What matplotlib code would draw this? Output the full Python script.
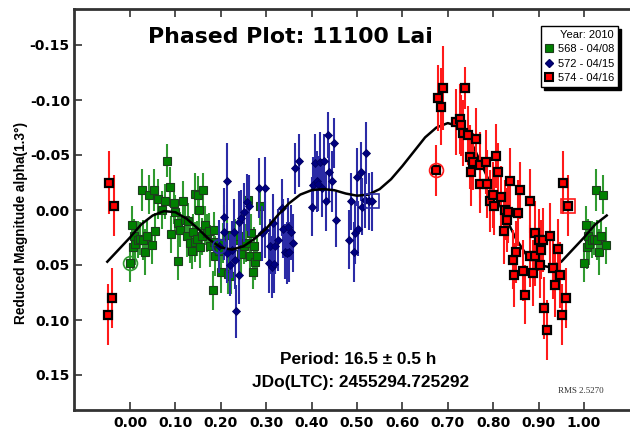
import matplotlib
matplotlib.use("Agg")
import matplotlib.pyplot as plt
from matplotlib.lines import Line2D
import numpy as np

plt.rcParams['font.family'] = ['Liberation Sans', 'DejaVu Sans']

# ---- session 568 (2010-04-08) ----
green_phase = [0.000, 0.005, 0.007, 0.009, 0.012, 0.018, 0.021, 0.026, 0.029, 0.034,
               0.038, 0.042, 0.048, 0.052, 0.055, 0.062, 0.070, 0.078, 0.081, 0.089,
               0.090, 0.096, 0.099, 0.105, 0.106, 0.110, 0.116, 0.121, 0.125, 0.128,
               0.133, 0.136, 0.138, 0.143, 0.144, 0.147, 0.150, 0.152, 0.155, 0.158,
               0.161, 0.165, 0.169, 0.174, 0.176, 0.183, 0.184, 0.186, 0.187, 0.195,
               0.200, 0.205, 0.213, 0.216, 0.222, 0.231, 0.239, 0.245, 0.250, 0.255,
               0.261, 0.264, 0.266, 0.272, 0.273, 0.275, 0.279, 0.286]
green_mag = [0.048, 0.014, 0.034, 0.024, 0.031, 0.027, 0.026, -0.018, 0.027, 0.038,
             0.024, -0.014, 0.032, -0.018, 0.019, -0.010, 0.000, -0.008, -0.045, -0.021,
             0.022, -0.006, 0.002, 0.046, 0.012, 0.018, -0.008, 0.009, 0.024, 0.010,
             0.030, 0.037, 0.020, -0.015, 0.029, 0.026, -0.014, 0.000, 0.034, 0.024,
             -0.018, 0.014, 0.021, 0.019, 0.033, 0.073, 0.029, 0.018, 0.042, 0.037,
             0.056, 0.030, 0.023, 0.058, 0.060, 0.027, 0.024, 0.040, 0.033, 0.030,
             -0.009, 0.042, 0.021, 0.056, 0.033, 0.047, 0.042, -0.004]
green_err = [0.017, 0.018, 0.020, 0.016, 0.019, 0.017, 0.015, 0.019, 0.018, 0.021,
             0.016, 0.018, 0.017, 0.019, 0.016, 0.018, 0.017, 0.016, 0.015, 0.018,
             0.017, 0.019, 0.016, 0.018, 0.017, 0.016, 0.018, 0.017, 0.019, 0.016,
             0.018, 0.017, 0.016, 0.019, 0.018, 0.016, 0.017, 0.018, 0.019, 0.017,
             0.016, 0.018, 0.017, 0.016, 0.019, 0.018, 0.017, 0.016, 0.018, 0.017,
             0.019, 0.018, 0.017, 0.018, 0.016, 0.019, 0.017, 0.018, 0.016, 0.017,
             0.018, 0.019, 0.017, 0.016, 0.018, 0.017, 0.019, 0.018]

# ---- session 572 (2010-04-15) ----
blue_phase = [0.195, 0.206, 0.208, 0.213, 0.214, 0.220, 0.224, 0.228, 0.231, 0.233,
              0.239, 0.241, 0.244, 0.252, 0.257, 0.263, 0.285, 0.290, 0.297, 0.298,
              0.306, 0.308, 0.312, 0.318, 0.316, 0.320, 0.327, 0.334, 0.338, 0.341,
              0.345, 0.347, 0.350, 0.355, 0.360, 0.364, 0.373, 0.400, 0.404, 0.407,
              0.411, 0.414, 0.419, 0.422, 0.428, 0.432, 0.437, 0.438, 0.445, 0.450,
              0.454, 0.482, 0.487, 0.493, 0.496, 0.499, 0.503, 0.509, 0.510, 0.517,
              0.519, 0.527, 0.532]
blue_mag = [0.033, 0.006, 0.020, 0.039, -0.026, 0.050, 0.036, 0.020, 0.045, 0.092,
            0.059, 0.011, 0.007, 0.002, -0.007, -0.004, -0.020, 0.021, -0.020, 0.018,
            0.048, 0.033, 0.052, 0.049, 0.012, 0.033, 0.027, -0.002, 0.017, 0.038,
            0.039, 0.015, 0.038, 0.020, 0.030, -0.038, -0.045, -0.003, -0.023, -0.043,
            -0.026, -0.024, -0.044, -0.020, -0.045, -0.008, -0.068, -0.035, -0.026, -0.061,
            0.009, 0.027, -0.008, 0.038, 0.021, -0.030, 0.017, -0.035, -0.003, -0.009,
            -0.052, -0.008, -0.008]
blue_err = [0.024, 0.026, 0.025, 0.027, 0.035, 0.028, 0.026, 0.030, 0.027, 0.024,
            0.026, 0.028, 0.025, 0.027, 0.026, 0.028, 0.027, 0.025, 0.028, 0.026,
            0.027, 0.025, 0.028, 0.026, 0.027, 0.025, 0.028, 0.026, 0.027, 0.025,
            0.028, 0.026, 0.027, 0.025, 0.026, 0.023, 0.024, 0.027, 0.025, 0.026,
            0.028, 0.025, 0.027, 0.026, 0.024, 0.027, 0.021, 0.026, 0.028, 0.023,
            0.025, 0.027, 0.026, 0.027, 0.028, 0.026, 0.025, 0.027, 0.026, 0.025,
            0.028, 0.026, 0.027]

# ---- session 574 (2010-04-16) ----
red_phase = [0.675, 0.679, 0.684, 0.689, 0.719, 0.727, 0.730, 0.733, 0.738, 0.745,
             0.749, 0.752, 0.756, 0.763, 0.771, 0.772, 0.784, 0.787, 0.792, 0.800,
             0.801, 0.806, 0.811, 0.818, 0.824, 0.826, 0.830, 0.833, 0.838, 0.844,
             0.845, 0.850, 0.855, 0.860, 0.866, 0.870, 0.881, 0.882, 0.888, 0.892,
             0.893, 0.900, 0.903, 0.905, 0.910, 0.911, 0.918, 0.925, 0.932, 0.936,
             0.943, 0.947, 0.952, 0.954, 0.961, 0.965]
red_mag = [-0.036, -0.102, -0.094, -0.111, -0.080, -0.083, -0.077, -0.070, -0.111, -0.068,
           -0.048, -0.035, -0.044, -0.065, -0.041, -0.024, -0.044, -0.024, -0.008, -0.014,
           -0.004, -0.049, -0.035, -0.012, 0.019, 0.000, 0.009, 0.002, -0.026, 0.045,
           0.059, 0.038, 0.003, -0.018, 0.055, 0.077, -0.008, 0.042, 0.057, 0.042,
           0.021, 0.027, 0.050, 0.036, 0.027, 0.089, 0.109, 0.024, 0.053, 0.068,
           0.035, 0.059, 0.095, -0.025, 0.080, -0.004]
red_err = [0.023, 0.030, 0.035, 0.038, 0.030, 0.032, 0.028, 0.030, 0.019, 0.027,
           0.029, 0.031, 0.026, 0.028, 0.030, 0.027, 0.029, 0.031, 0.028, 0.030,
           0.027, 0.029, 0.026, 0.028, 0.030, 0.027, 0.029, 0.028, 0.030, 0.027,
           0.029, 0.028, 0.030, 0.026, 0.028, 0.027, 0.029, 0.028, 0.030, 0.027,
           0.029, 0.028, 0.030, 0.027, 0.029, 0.028, 0.027, 0.030, 0.028, 0.029,
           0.027, 0.030, 0.028, 0.029, 0.027, 0.028]

# ---- Fourier fit, sampled over the plotted phase range ----
fit_phase = [-0.050, -0.025, 0.000, 0.025, 0.050, 0.075, 0.100, 0.125, 0.150, 0.175,
             0.200, 0.225, 0.250, 0.275, 0.300, 0.325, 0.350, 0.375, 0.400, 0.425,
             0.450, 0.475, 0.500, 0.525, 0.550, 0.575, 0.600, 0.625, 0.650, 0.675,
             0.700, 0.725, 0.750, 0.775, 0.800, 0.825, 0.850, 0.875, 0.900, 0.925,
             0.950, 0.975, 1.000, 1.025, 1.050]
fit_mag = [0.047, 0.036, 0.025, 0.013, 0.005, 0.001, 0.002, 0.008, 0.017, 0.027,
           0.034, 0.036, 0.033, 0.026, 0.017, 0.005, -0.006, -0.014, -0.018, -0.019,
           -0.018, -0.015, -0.013, -0.014, -0.019, -0.028, -0.040, -0.053, -0.066, -0.075,
           -0.079, -0.076, -0.063, -0.041, -0.018, 0.005, 0.026, 0.042, 0.050, 0.052,
           0.047, 0.036, 0.025, 0.013, 0.005]

x_ticks = [0.0, 0.1, 0.2, 0.3, 0.4, 0.5, 0.6, 0.7, 0.8, 0.9, 1.0]
x_tick_labels = ["0.00", "0.10", "0.20", "0.30", "0.40", "0.50", "0.60", "0.70", "0.80", "0.90", "1.00"]
y_ticks = [-0.15, -0.10, -0.05, 0.00, 0.05, 0.10, 0.15]
y_tick_labels = ["-0.15", "-0.10", "-0.05", "0.00", "0.05", "0.10", "0.15"]

legend_title = "Year: 2010"
session_labels = ["568 - 04/08", "572 - 04/15", "574 - 04/16"]

WIDE = 'DejaVu Sans'


def wrap(phase, mag, err, lo=0.05, hi=0.95):
    """Repeat observations near the phase edges so the plot spans -0.05..1.05."""
    p = np.asarray(phase)
    m = np.asarray(mag)
    e = np.asarray(err)
    lo_sel = p < lo
    hi_sel = p > hi
    return (np.concatenate([p, p[lo_sel] + 1.0, p[hi_sel] - 1.0]),
            np.concatenate([m, m[lo_sel], m[hi_sel]]),
            np.concatenate([e, e[lo_sel], e[hi_sel]]))


W, H = 630, 432
fig = plt.figure(figsize=(W / 100, H / 100), dpi=100)
ax = fig.add_axes([74 / W, 22 / H, (W - 74) / W, 401 / H])

series = [
    (green_phase, green_mag, green_err, dict(marker='s', ms=6.2, mfc='#008000', mec='#1d3d1d', mew=0.8),
     '#2f9a2f', 2),
    (blue_phase, blue_mag, blue_err, dict(marker='D', ms=4.2, mfc='#000080', mec='#000060', mew=0.6),
     '#2b2ba6', 3),
    (red_phase, red_mag, red_err, dict(marker='s', ms=5.8, mfc='#ff0000', mec='black', mew=1.6),
     '#ff1a1a', 5),
]

for ph, mg, er, mstyle, ecol, z in series:
    p, m, e = wrap(ph, mg, er)
    ax.errorbar(p, m, yerr=e, fmt='none', ecolor=ecol, elinewidth=1.5, capsize=0, zorder=z)
    ax.plot(p, m, linestyle='none', zorder=z + 0.5, **mstyle)

# first observation of each session circled, last one boxed
ax.plot(green_phase[0], green_mag[0], 'o', ms=10, mfc='none', mec='#2f9a2f', mew=1.2, zorder=6)
ax.plot(blue_phase[0], blue_mag[0], 'o', ms=10, mfc='none', mec='#2b2ba6', mew=1.2, zorder=6)
ax.plot(red_phase[0], red_mag[0], 'o', ms=10, mfc='none', mec='#ff1a1a', mew=1.2, zorder=6)
ax.plot(blue_phase[-1], blue_mag[-1], 's', ms=10, mfc='none', mec='#2b2ba6', mew=1.2, zorder=6)
ax.plot(red_phase[-1], red_mag[-1], 's', ms=10, mfc='none', mec='#ff1a1a', mew=1.2, zorder=6)

ax.plot(fit_phase, fit_mag, color='black', lw=1.8, zorder=4.8)

ax.set_xlim((74 - 130) / 454, (W - 130) / 454)
ax.set_ylim((410 - 210) / 1100, (9 - 210) / 1100)

ax.set_xticks(x_ticks)
ax.set_xticklabels(x_tick_labels, fontweight='bold', fontsize=10, family=WIDE)
ax.set_yticks(y_ticks)
ax.set_yticklabels(y_tick_labels, fontweight='bold', fontsize=10, family=WIDE)
ax.tick_params(direction='in', length=6, width=1.2, color='#333333', top=True, right=False,
               pad=4)
ax.tick_params(axis='y', pad=3)

for side in ('left', 'top', 'bottom'):
    ax.spines[side].set_linewidth(2.0)
    ax.spines[side].set_color('#333333')
ax.spines['right'].set_visible(False)

ax.set_ylabel("Reduced Magnitude alpha(1.3°)", fontweight='bold', fontsize=9.8)
ax.yaxis.set_label_coords((28 - 74) / (W - 74), (H - 223.5 - 22) / 401)

fig.text(290 / W, 1 - 37 / H, "Phased Plot: 11100 Lai", ha='center', va='center',
         fontsize=15.8, fontweight='bold', family=WIDE)
fig.text(358 / W, 1 - 360 / H, "Period: 16.5 ± 0.5 h", ha='center', va='center',
         fontsize=12.4, fontweight='bold')
fig.text(361 / W, 1 - 382 / H, "JDo(LTC): 2455294.725292", ha='center', va='center',
         fontsize=12.4, fontweight='bold')
fig.text(581 / W, 1 - 391 / H, "RMS 2.5270", ha='center', va='center',
         fontsize=6.5, family='Liberation Serif', color='#333333')

handles = [
    Line2D([], [], linestyle='none', marker='s', ms=6, mfc='#008000', mec='#1d3d1d', mew=0.8),
    Line2D([], [], linestyle='none', marker='D', ms=4.5, mfc='#000080', mec='#000060'),
    Line2D([], [], linestyle='none', marker='s', ms=5.5, mfc='#ff0000', mec='black', mew=1.5),
]
leg = ax.legend(handles, session_labels, title=legend_title, loc='upper right',
                bbox_to_anchor=((618 - 74) / (W - 74), (H - 26 - 22) / 401),
                fontsize=8, title_fontsize=8, frameon=True, fancybox=False,
                shadow={'color': 'black', 'alpha': 1.0, 'ox': 2.2, 'oy': -2.2},
                edgecolor='black', borderpad=0.35, labelspacing=0.4, handlelength=0.8,
                handletextpad=0.4, borderaxespad=0.0, alignment='right')
leg.get_frame().set_linewidth(1.0)
leg.set_zorder(10)

fig.savefig("out.png", dpi=100)
